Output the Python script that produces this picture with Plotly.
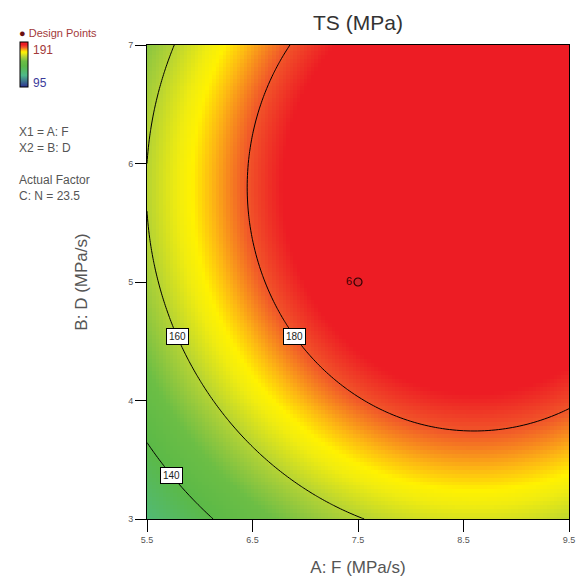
import numpy as np
import plotly.graph_objects as go

# ---- data: fitted quadratic model (coded units) ----
model_terms = ["Intercept", "A", "B", "AB", "A^2", "B^2"]
model_coefs = [190.8, 17.5, 13.9, 0.0, -15.9, -17.4]
x_range = [5.5, 9.5]          # A: F (MPa/s)
y_range = [3.0, 7.0]          # B: D (MPa/s)
contour_levels = [140, 160, 180]
label_levels = [160, 180, 140]
label_y = [4.54, 4.54, 3.37]
design_x = [7.5]
design_y = [5.0]
design_text = ["6"]
color_min, color_max = 95, 191
x_ticks = [5.5, 6.5, 7.5, 8.5, 9.5]
y_ticks = [3, 4, 5, 6, 7]

b0, b1, b2, b12, b11, b22 = model_coefs

def code(v, r):
    return (v - (r[0] + r[1]) / 2) / ((r[1] - r[0]) / 2)

def uncode(c, r):
    return c * (r[1] - r[0]) / 2 + (r[0] + r[1]) / 2

def model(A, B):
    return b0 + b1 * A + b2 * B + b12 * A * B + b11 * A**2 + b22 * B**2

n = 121
xs = np.linspace(x_range[0], x_range[1], n)
ys = np.linspace(y_range[0], y_range[1], n)
X, Y = np.meshgrid(xs, ys)
Z = model(code(X, x_range), code(Y, y_range))

colorscale = [
    [0.0, "#2E3192"],
    [0.26, "#4DB98A"],
    [0.469, "#5BB947"],
    [0.573, "#6CBE45"],
    [0.62, "#8DC63F"],
    [0.677, "#B5D334"],
    [0.75, "#F0EC10"],
    [0.78, "#FFF200"],
    [0.82, "#FDB913"],
    [0.88, "#F15A29"],
    [0.94, "#ED1C24"],
    [1.0, "#ED1C24"],
]

fig = go.Figure()
fig.add_trace(go.Heatmap(
    x=xs, y=ys, z=Z, zmin=color_min, zmax=color_max, colorscale=colorscale,
    zsmooth=False, hoverinfo="skip",
    colorbar=dict(x=-0.300, xanchor="left", xref="paper", y=0.958, yanchor="middle",
                  xpad=0, ypad=0,
                  thickness=8, thicknessmode="pixels", len=45, lenmode="pixels",
                  outlinecolor="black", outlinewidth=1, showticklabels=False, ticks="")
))
fig.add_trace(go.Contour(
    x=xs, y=ys, z=Z, contours=dict(start=contour_levels[0], end=contour_levels[-1],
                                   size=contour_levels[1] - contour_levels[0], coloring="lines"),
    colorscale=[[0, "black"], [1, "black"]], showscale=False, line=dict(width=1),
    hoverinfo="skip"
))
fig.add_trace(go.Scatter(
    x=design_x, y=design_y, mode="markers+text", text=design_text, textposition="middle left",
    textfont=dict(color="#3a0000", size=11, family="Liberation Sans"),
    marker=dict(size=8, color="#D2232A", line=dict(color="#300000", width=1.2)),
    showlegend=False, hoverinfo="skip"
))

# contour labels placed on the left branch of each contour line
for L, yl in zip(label_levels, label_y):
    Bc = code(yl, y_range)
    a = b11
    b = b1 + b12 * Bc
    c = b0 + b2 * Bc + b22 * Bc**2 - L
    disc = b * b - 4 * a * c
    roots = [(-b + s * np.sqrt(disc)) / (2 * a) for s in (1, -1)]
    Ac = min(roots)
    fig.add_annotation(x=uncode(Ac, x_range), y=yl, text=str(L), showarrow=False,
                       bgcolor="white", bordercolor="black", borderwidth=1, borderpad=2,
                       font=dict(size=10, color="#222", family="Liberation Sans"))

gray = "#555555"
side = [
    ("<span style='color:#6b0f0f'>●</span> Design Points", 1.025, "#A33A3A", 11),
    ("X1 = A: F", 0.8155, gray, 12),
    ("X2 = B: D", 0.782, gray, 12),
    ("Actual Factor", 0.715, gray, 12),
    ("C: N = 23.5", 0.681, gray, 12),
]
for t, yy, col, sz in side:
    fig.add_annotation(x=-0.309, y=yy, xref="paper", yref="paper", text=t, showarrow=False,
                       xanchor="left", yanchor="middle",
                       font=dict(size=sz, color=col, family="Liberation Sans"))
fig.add_annotation(x=-0.275, y=0.990, xref="paper", yref="paper", text=str(color_max),
                   showarrow=False, xanchor="left", yanchor="middle",
                   font=dict(size=12, color="#A33A3A", family="Liberation Sans"))
fig.add_annotation(x=-0.275, y=0.920, xref="paper", yref="paper", text=str(color_min),
                   showarrow=False, xanchor="left", yanchor="middle",
                   font=dict(size=12, color="#3B3B9A", family="Liberation Sans"))

fig.update_layout(
    width=576, height=575,
    margin=dict(l=139, r=9, t=37, b=57),
    paper_bgcolor="white", plot_bgcolor="white",
    showlegend=False,
    title=dict(text="TS (MPa)", x=0.6076, xanchor="center", y=0.974, yanchor="middle",
               font=dict(size=21, color="#333", family="Liberation Sans")),
    font=dict(family="Liberation Sans", color=gray),
)
fig.update_xaxes(range=x_range, tickvals=x_ticks, ticktext=[str(v) for v in x_ticks],
                 ticks="outside", ticklen=12, tickcolor="black", showline=True, linecolor="black",
                 mirror=True, showgrid=False, zeroline=False,
                 tickfont=dict(size=9, color=gray),
                 title=dict(text="A: F (MPa/s)", font=dict(size=17, color=gray), standoff=17))
fig.update_yaxes(range=y_range, tickvals=y_ticks, ticktext=[str(v) for v in y_ticks],
                 ticks="outside", ticklen=11, tickcolor="black", showline=True, linecolor="black",
                 mirror=True, showgrid=False, zeroline=False,
                 tickfont=dict(size=9, color=gray),
                 title=dict(text="B: D (MPa/s)", font=dict(size=17, color=gray), standoff=36))

fig.write_html("out.html")
